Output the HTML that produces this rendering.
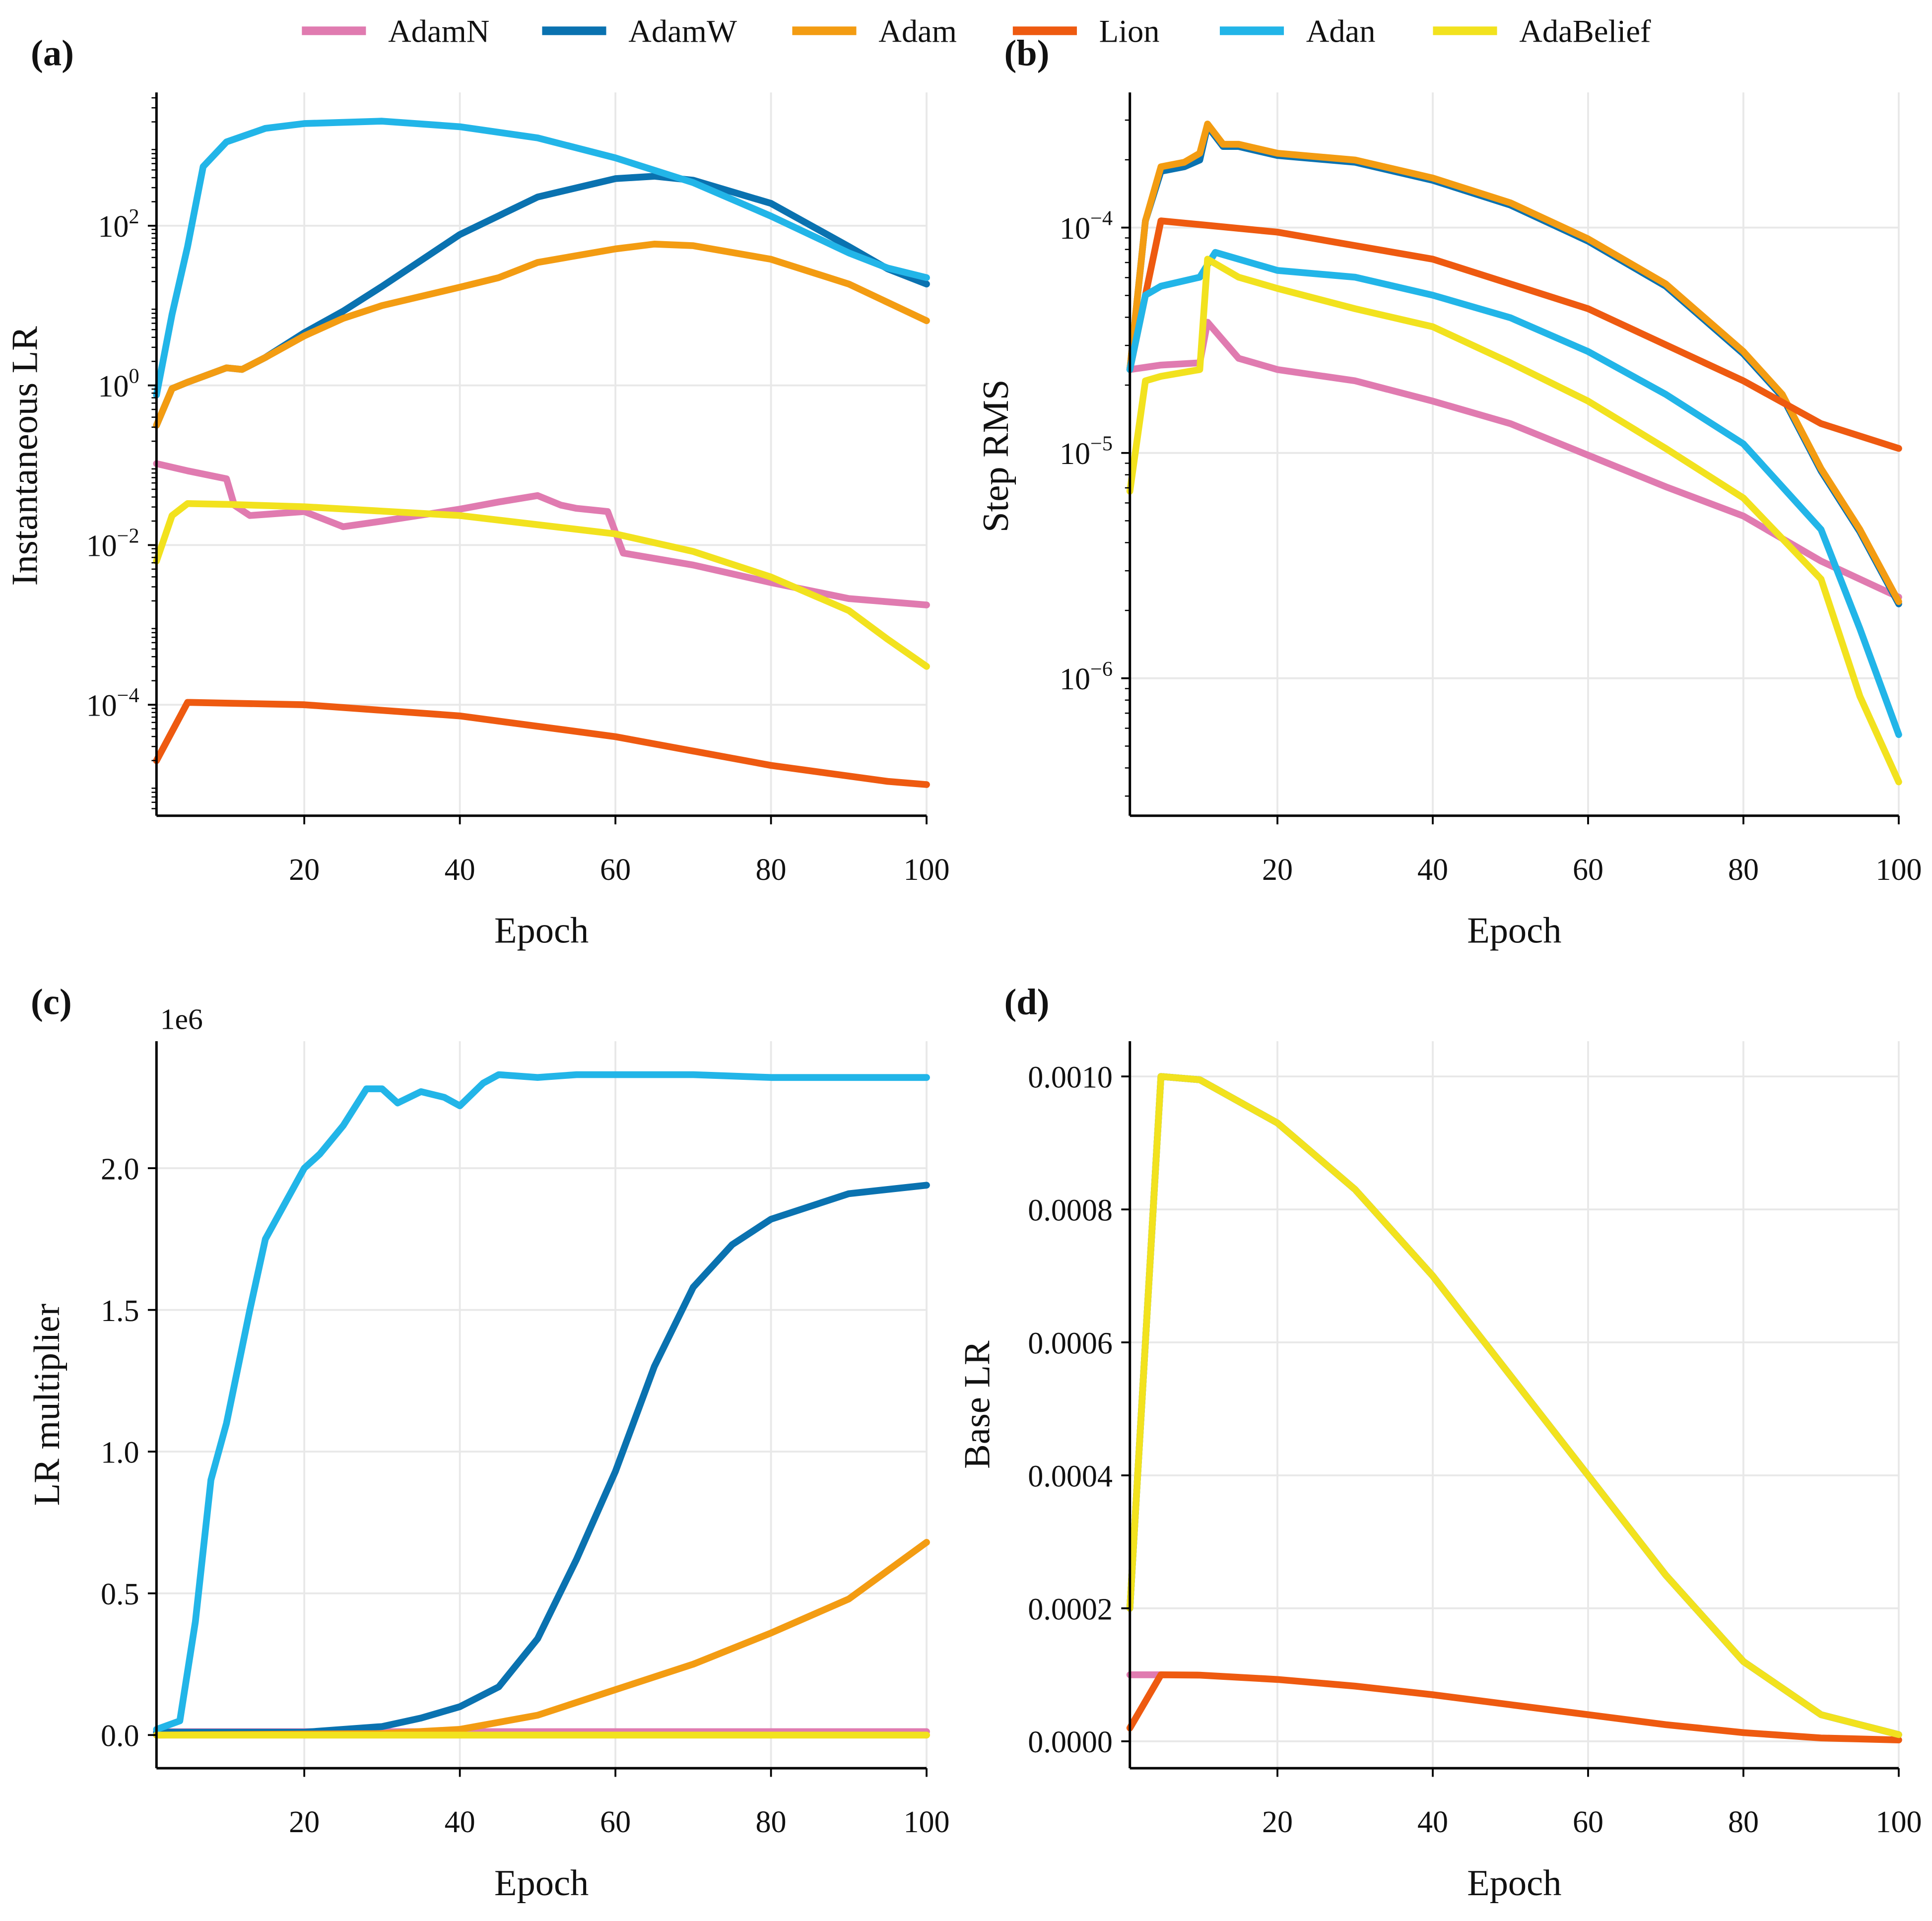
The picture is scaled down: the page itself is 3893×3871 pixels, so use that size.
<!DOCTYPE html>
<html><head><meta charset="utf-8"><title>Optimizer LR comparison</title>
<style>
html,body{margin:0;padding:0;background:#fff;}
svg{display:block;font-family:"Liberation Serif",serif;}
</style></head>
<body>
<svg id="fig" xmlns="http://www.w3.org/2000/svg" width="3893" height="3871" viewBox="0 0 1568 1559" preserveAspectRatio="none">
<g id="legend"></g>
<g id="panels"></g>
</svg>
<script>
// ---------- DATA ----------
const seriesNames = ["AdamN","AdamW","Adam","Lion","Adan","AdaBelief"];
const seriesColors = ["#e07bb0","#0a72b0","#f39c12","#ee5a10","#22b5e8","#f2e21e"];

// Panel (a): Instantaneous LR, log10 values
const aEpochs = {
  AdamN:[1,5,10,11,13,20,25,30,40,45,50,53,55,59,61,70,80,90,100],
  AdamW:[1,3,5,10,12,15,20,25,30,40,50,60,65,70,80,90,95,100],
  Adam:[1,3,5,10,12,15,20,25,30,40,45,50,60,65,70,80,90,100],
  Lion:[1,5,20,40,60,80,95,100],
  Adan:[1,3,5,7,10,15,20,30,40,50,60,70,80,90,95,100],
  AdaBelief:[1,3,5,10,20,40,60,70,80,90,95,100]
};
const aLog10 = {
  AdamN:[-0.98,-1.07,-1.17,-1.5,-1.63,-1.58,-1.77,-1.7,-1.55,-1.46,-1.38,-1.5,-1.54,-1.58,-2.1,-2.25,-2.47,-2.67,-2.75],
  AdamW:[-0.5,-0.04,0.04,0.22,0.2,0.35,0.66,0.93,1.24,1.89,2.36,2.59,2.62,2.57,2.28,1.74,1.46,1.27],
  Adam:[-0.5,-0.04,0.04,0.22,0.2,0.35,0.62,0.84,1.0,1.23,1.35,1.54,1.71,1.77,1.75,1.58,1.27,0.81],
  Lion:[-4.7,-3.97,-4.0,-4.14,-4.4,-4.76,-4.96,-5.0],
  Adan:[-0.12,0.89,1.74,2.74,3.05,3.22,3.28,3.31,3.24,3.10,2.85,2.54,2.12,1.66,1.47,1.35],
  AdaBelief:[-2.2,-1.63,-1.48,-1.49,-1.52,-1.63,-1.86,-2.08,-2.4,-2.82,-3.18,-3.52]
};
// Panel (b): Step RMS, log10 values
const bEpochs = {
  AdamN:[1,3,5,10,11,15,20,30,40,50,60,70,80,90,100],
  AdamW:[1,3,5,8,10,11,13,15,20,30,40,50,60,70,80,85,90,95,100],
  Adam:[1,3,5,8,10,11,13,15,20,30,40,50,60,70,80,85,90,95,100],
  Lion:[1,5,20,40,60,80,90,100],
  Adan:[1,3,5,10,12,20,30,40,50,60,70,80,90,95,100],
  AdaBelief:[1,3,5,10,11,15,20,30,40,50,60,70,80,90,95,100]
};
const bLog10 = {
  AdamN:[-4.63,-4.62,-4.61,-4.6,-4.42,-4.58,-4.63,-4.68,-4.77,-4.87,-5.01,-5.15,-5.28,-5.48,-5.64],
  AdamW:[-4.63,-3.97,-3.75,-3.73,-3.7,-3.55,-3.64,-3.64,-3.68,-3.71,-3.79,-3.9,-4.06,-4.26,-4.56,-4.75,-5.08,-5.35,-5.67],
  Adam:[-4.63,-3.97,-3.73,-3.71,-3.67,-3.54,-3.63,-3.63,-3.67,-3.70,-3.78,-3.89,-4.05,-4.25,-4.55,-4.74,-5.07,-5.34,-5.66],
  Lion:[-4.63,-3.97,-4.02,-4.14,-4.36,-4.68,-4.87,-4.98],
  Adan:[-4.63,-4.3,-4.26,-4.22,-4.11,-4.19,-4.22,-4.3,-4.4,-4.55,-4.74,-4.96,-5.34,-5.78,-6.25],
  AdaBelief:[-5.17,-4.68,-4.66,-4.63,-4.14,-4.22,-4.27,-4.36,-4.44,-4.6,-4.77,-4.98,-5.2,-5.56,-6.08,-6.46]
};
// Panel (c): LR multiplier, units of 1e6
const cEpochs = {
  AdamN:[1,100],
  AdamW:[1,20,30,35,40,45,50,55,60,65,70,75,80,90,100],
  Adam:[1,30,40,50,60,70,80,90,95,100],
  Lion:[1,100],
  Adan:[1,4,6,8,10,13,15,18,20,22,25,28,30,32,35,38,40,43,45,50,55,60,70,80,90,100],
  AdaBelief:[1,100]
};
const cValues = {
  AdamN:[0.012,0.012],
  AdamW:[0.01,0.01,0.03,0.06,0.1,0.17,0.34,0.62,0.93,1.3,1.58,1.73,1.82,1.91,1.94],
  Adam:[0.0,0.005,0.02,0.07,0.16,0.25,0.36,0.48,0.58,0.68],
  Lion:[0.0,0.0],
  Adan:[0.02,0.05,0.4,0.9,1.1,1.5,1.75,1.9,2.0,2.05,2.15,2.28,2.28,2.23,2.27,2.25,2.22,2.3,2.33,2.32,2.33,2.33,2.33,2.32,2.32,2.32],
  AdaBelief:[0.0,0.0]
};
// Panel (d): Base LR
const dEpochs = {
  AdamN:[1,5],
  AdamW:[1,5,10,20,30,40,50,60,70,80,90,100],
  Adam:[1,5,10,20,30,40,50,60,70,80,90,100],
  Lion:[1,5,10,20,30,40,50,60,70,80,90,100],
  Adan:[1,5,10,20,30,40,50,60,70,80,90,100],
  AdaBelief:[1,5,10,20,30,40,50,60,70,80,90,100]
};
const bigCurve = [0.0002,0.001,0.000995,0.00093,0.00083,0.0007,0.00055,0.0004,0.00025,0.00012,0.00004,0.00001];
const dValues = {
  AdamN:[0.0001,0.0001],
  AdamW:bigCurve, Adam:bigCurve, Adan:bigCurve, AdaBelief:bigCurve,
  Lion:[0.00002,0.0001,0.0000995,0.000093,0.000083,0.00007,0.000055,0.00004,0.000025,0.000013,0.000005,0.000002]
};
// Ticks
const xTicks = [20,40,60,80,100];
const aYTicks = [2,0,-2,-4];
const bYTicks = [-4,-5,-6];
const cYTicks = [0,0.5,1.0,1.5,2.0];
const cYLabels = ["0.0","0.5","1.0","1.5","2.0"];
const dYTicks = [0,0.0002,0.0004,0.0006,0.0008,0.0010];
const dYLabels = ["0.0000","0.0002","0.0004","0.0006","0.0008","0.0010"];

// ---------- DRAWING ----------
const NS = "http://www.w3.org/2000/svg";
const fig = document.getElementById("fig");
const panelsG = document.getElementById("panels");
const legendG = document.getElementById("legend");
function mk(tag, attrs, parent){
  const e = document.createElementNS(NS, tag);
  for (const k in attrs) e.setAttribute(k, attrs[k]);
  parent.appendChild(e);
  return e;
}

const panels = [
  {id:"a", L:127, R:752, T:75, B:662, yMin:-5.39, yMax:3.67, label:"Instantaneous LR", ylx:30, yly:370, ep:aEpochs, vals:aLog10, yt:aYTicks, ytype:"log"},
  {id:"b", L:917, R:1541, T:75, B:662, yMin:-6.61, yMax:-3.40, label:"Step RMS", ylx:818, yly:370, ep:bEpochs, vals:bLog10, yt:bYTicks, ytype:"log"},
  {id:"c", L:127, R:752, T:845, B:1435, yMin:-0.117, yMax:2.448, label:"LR multiplier", ylx:48, yly:1140, ep:cEpochs, vals:cValues, yt:cYTicks, ytl:cYLabels, ytype:"lin"},
  {id:"d", L:917, R:1541, T:845, B:1435, yMin:-0.0000405, yMax:0.001053, label:"Base LR", ylx:803, yly:1140, ep:dEpochs, vals:dValues, yt:dYTicks, ytl:dYLabels, ytype:"lin"}
];

panels.forEach(p=>{
  const g = mk("g",{},panelsG);
  
  
  const xs = e => p.L + (e-1)*(p.R-p.L)/99;
  const ys = v => p.B - (v - p.yMin)*(p.B-p.T)/(p.yMax-p.yMin);
  xTicks.forEach(t=>{
    const gl = mk("line",{x1:xs(t),x2:xs(t),y1:p.T,y2:p.B,stroke:"#e8e8e8","stroke-width":1.5},g);
    
    
  });
  p.yt.forEach(t=>{
    const gl = mk("line",{x1:p.L,x2:p.R,y1:ys(t),y2:ys(t),stroke:"#e8e8e8","stroke-width":1.5},g);
    
    
  });
  seriesNames.forEach((s,i)=>{
    const E = p.ep[s], V = p.vals[s];
    let d = "";
    for (let k=0;k<E.length;k++) d += (k?"L":"M") + xs(E[k]).toFixed(2) + "," + ys(V[k]).toFixed(2);
    const path = mk("path",{d:d,fill:"none",stroke:seriesColors[i],"stroke-width":5.5,"stroke-linejoin":"round","stroke-linecap":"round"},g);
    
    
  });
  const sp1 = mk("line",{x1:p.L,x2:p.L,y1:p.T,y2:p.B,stroke:"#000","stroke-width":2},g);
  
  
  const sp2 = mk("line",{x1:p.L,x2:p.R,y1:p.B,y2:p.B,stroke:"#000","stroke-width":2},g);
  
  
  xTicks.forEach(t=>{
    mk("line",{x1:xs(t),x2:xs(t),y1:p.B,y2:p.B+7,stroke:"#000","stroke-width":1.5},g);
    const tl = mk("text",{x:xs(t),y:p.B+52,"text-anchor":"middle","font-size":25,fill:"#111"},g);
    tl.textContent = t;
    
    
  });
  p.yt.forEach((t,k)=>{
    mk("line",{x1:p.L-7,x2:p.L,y1:ys(t),y2:ys(t),stroke:"#000","stroke-width":1.5},g);
    const tl = mk("text",{x:p.L-14,y:ys(t)+9,"text-anchor":"end","font-size":25,fill:"#111"},g);
    if (p.ytype==="log"){
      const b = mk("tspan",{},tl); b.textContent = "10";
      const sup = mk("tspan",{dy:-11,"font-size":17},tl);
      sup.textContent = t<0 ? "\u2212"+(-t) : String(t);
    } else {
      tl.textContent = p.ytl[k];
    }
    
    
  });
  if (p.ytype==="log"){
    for (let dcd=Math.floor(p.yMin); dcd<p.yMax; dcd++){
      for (let m=2;m<10;m++){
        const v = dcd + Math.log10(m);
        if (v>p.yMin && v<p.yMax) mk("line",{x1:p.L-4,x2:p.L,y1:ys(v),y2:ys(v),stroke:"#000","stroke-width":1},g);
      }
    }
  }
  const xt = mk("text",{x:(p.L+p.R)/2,y:p.B+103,"text-anchor":"middle","font-size":30,fill:"#111"},g);
  xt.textContent = "Epoch";
  
  
  const yt = mk("text",{x:p.ylx,y:p.yly,"text-anchor":"middle","font-size":30,fill:"#111",transform:"rotate(-90 "+p.ylx+" "+p.yly+")"},g);
  yt.textContent = p.label;
  
  
  const pl = mk("text",{x:p.L-102,y:p.T-22,"font-size":30,"font-weight":"bold",fill:"#111"},g);
  pl.textContent = "("+p.id+")";
  
  
  if (p.id==="c"){
    const ex = mk("text",{x:130,y:835,"font-size":24,fill:"#111"},g);
    ex.textContent = "1e6";
    
    
  }
});

const legX = [245,440,643,822,990,1163];
seriesNames.forEach((s,i)=>{
  const eg = mk("g",{},legendG);
  
  
  mk("line",{x1:legX[i],x2:legX[i]+52,y1:25,y2:25,stroke:seriesColors[i],"stroke-width":7},eg);
  const t = mk("text",{x:legX[i]+70,y:34,"font-size":26,fill:"#111"},eg);
  t.textContent = s;
});
</script>
</body></html>
